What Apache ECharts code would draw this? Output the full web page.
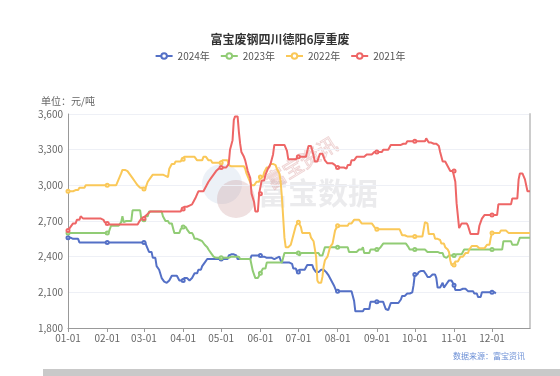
<!DOCTYPE html>
<html lang="zh">
<head>
  <meta charset="UTF-8">
  <title>富宝废钢四川德阳6厚重废</title>
  <script src="https://cdn.jsdelivr.net/npm/echarts@6/dist/echarts.min.js"></script>
  <style>
    html, body { margin: 0; padding: 0; background: #fff; }
  </style>
</head>
<body>
<div id="main" style="width:560px;height:376px;"></div>
<script>
  // 月份天数（按闰年，01-01 ~ 12-31 共366天）
  var monthDays = [31, 29, 31, 30, 31, 30, 31, 31, 30, 31, 30, 31];
  var yTicks = [1800, 2100, 2400, 2700, 3000, 3300, 3600];
  var legendNames = ['2024年', '2023年', '2022年', '2021年'];

  // 价格变动点：[第几天, 价格]，之后保持该价格直到下一个变动点
  var p2024 = [[0,2560],[4,2550],[9,2520],[62,2490],[64,2440],[67,2390],[70,2320],[72,2290],[74,2220],[76,2190],[78,2180],[80,2200],[82,2240],[88,2200],[92,2220],[96,2200],[98,2220],[100,2260],[103,2290],[106,2320],[108,2350],[110,2380],[127,2410],[129,2420],[133,2410],[134,2380],[145,2410],[153,2400],[156,2390],[163,2380],[165,2390],[167,2400],[168,2370],[169,2350],[176,2340],[178,2300],[181,2270],[183,2290],[189,2330],[194,2300],[196,2270],[200,2290],[204,2270],[206,2240],[208,2200],[210,2160],[212,2110],[226,2030],[227,1940],[234,1960],[239,2020],[251,1960],[252,1950],[254,1980],[255,2010],[263,2040],[264,2070],[268,2090],[271,2100],[273,2160],[274,2250],[277,2270],[279,2280],[283,2250],[284,2230],[288,2250],[291,2220],[292,2140],[296,2180],[297,2140],[299,2170],[301,2200],[305,2160],[306,2120],[312,2130],[316,2110],[321,2090],[324,2060],[327,2100],[338,2090]];
  var last2024 = 338;

  var p2023 = [[0,2600],[34,2660],[42,2690],[43,2740],[44,2690],[46,2700],[51,2790],[58,2710],[61,2740],[64,2780],[75,2740],[77,2700],[80,2680],[84,2600],[89,2630],[91,2650],[94,2630],[96,2600],[99,2580],[100,2550],[103,2540],[105,2530],[108,2500],[110,2480],[111,2460],[113,2430],[115,2400],[116,2390],[128,2400],[136,2380],[145,2330],[146,2280],[148,2220],[152,2260],[154,2300],[157,2350],[171,2430],[183,2410],[184,2430],[199,2410],[203,2480],[221,2480],[222,2440],[230,2460],[233,2480],[234,2430],[239,2460],[247,2480],[249,2510],[269,2480],[270,2460],[284,2440],[293,2430],[297,2400],[298,2390],[301,2410],[306,2420],[313,2460],[344,2530],[351,2500],[357,2560]];

  var p2022 = [[0,2950],[5,2960],[9,2980],[14,3000],[40,3050],[42,3100],[43,3130],[47,3120],[49,3090],[51,3060],[53,3030],[55,3000],[57,2980],[60,2970],[63,3030],[65,3060],[67,3090],[76,3080],[78,3070],[80,3140],[82,3180],[85,3200],[90,3220],[92,3240],[102,3210],[107,3240],[111,3210],[114,3190],[122,3210],[127,3170],[128,3160],[140,3140],[141,3100],[143,3050],[145,3000],[149,3030],[152,3070],[155,3110],[157,3150],[160,3180],[164,3170],[165,3140],[167,3100],[168,3030],[169,2900],[171,2560],[172,2480],[176,2500],[178,2580],[180,2660],[182,2690],[184,2650],[185,2600],[192,2560],[194,2530],[196,2400],[197,2200],[198,2180],[201,2230],[202,2320],[203,2370],[205,2400],[207,2480],[209,2510],[211,2620],[213,2660],[222,2680],[226,2710],[232,2680],[242,2650],[244,2630],[264,2580],[267,2570],[282,2690],[284,2680],[285,2590],[290,2550],[293,2540],[295,2510],[298,2480],[300,2460],[301,2440],[302,2370],[303,2330],[306,2360],[310,2400],[314,2430],[317,2460],[319,2490],[325,2470],[331,2500],[334,2560],[335,2600],[342,2620],[348,2600]];

  var p2021 = [[0,2620],[2,2650],[4,2680],[7,2710],[10,2740],[12,2720],[27,2710],[29,2690],[31,2680],[33,2670],[56,2690],[58,2720],[61,2740],[63,2760],[65,2780],[90,2800],[92,2820],[95,2830],[97,2840],[99,2860],[101,2900],[103,2950],[109,2990],[111,3030],[113,3060],[115,3090],[117,3120],[119,3140],[121,3150],[127,3180],[128,3300],[130,3380],[131,3550],[132,3580],[135,3450],[136,3350],[137,3280],[139,3240],[140,3210],[142,3120],[144,3060],[145,2930],[147,2860],[148,2780],[151,2930],[153,3040],[156,3090],[158,3140],[160,3180],[162,3260],[163,3340],[173,3290],[174,3220],[182,3240],[189,3255],[190,3330],[194,3250],[195,3200],[199,3265],[203,3210],[205,3185],[211,3170],[212,3150],[219,3140],[221,3170],[224,3210],[228,3240],[236,3260],[242,3280],[249,3300],[255,3340],[265,3350],[268,3370],[283,3395],[285,3360],[288,3350],[293,3330],[294,3280],[296,3200],[300,3160],[302,3120],[306,3030],[307,2850],[309,2640],[311,2680],[316,2660],[318,2590],[325,2660],[327,2720],[329,2750],[340,2840],[351,2890],[356,3050],[357,3100],[361,3050],[363,2950]];

  // 日期类目 MM-DD
  var dates = [];
  for (var m = 0; m < 12; m++) {
    for (var d = 1; d <= monthDays[m]; d++) {
      dates.push((m < 9 ? '0' : '') + (m + 1) + '-' + (d < 10 ? '0' : '') + d);
    }
  }

  // 变动点展开成每天的价格
  function daily(pts, lastDay) {
    var out = [];
    var k = 0;
    for (var i = 0; i < dates.length; i++) {
      if (i > lastDay) { out.push(null); continue; }
      while (k + 1 < pts.length && pts[k + 1][0] <= i) k++;
      out.push(pts[k][1]);
    }
    return out;
  }

  var isMonthStart = function (idx, val) { return dates[idx].slice(3) === '01'; };

  function lineSeries(name, pts, lastDay) {
    return {
      name: name,
      type: 'line',
      data: daily(pts, lastDay),
      symbol: 'emptyCircle',
      symbolSize: 3,
      itemStyle: { borderWidth: 1 },
      lineStyle: { width: 2 }
    };
  }

  var myChart = echarts.init(document.getElementById('main'));

  var option = {
    animation: false,
    textStyle: { fontFamily: 'Noto Sans CJK SC, sans-serif' },
    color: ['#5470c6', '#91cc75', '#fac858', '#ee6666'],
    title: {
      text: '富宝废钢四川德阳6厚重废',
      left: 'center',
      top: 28,
      textStyle: { fontSize: 12, fontWeight: 'bold', color: '#333' }
    },
    legend: {
      data: legendNames,
      top: 46,
      itemWidth: 17,
      itemHeight: 7,
      itemGap: 10,
      textStyle: { fontSize: 10, color: '#555' }
    },
    grid: { left: 68, right: 30, top: 114, bottom: 48 },
    xAxis: {
      type: 'category',
      data: dates,
      boundaryGap: false,
      axisLine: { lineStyle: { color: '#999' } },
      axisTick: { interval: isMonthStart, length: 4, lineStyle: { color: '#999' } },
      axisLabel: { interval: isMonthStart, fontSize: 10, margin: 5, color: '#666' }
    },
    yAxis: [
      {
        type: 'value',
        min: yTicks[0],
        max: yTicks[yTicks.length - 1],
        interval: 300,
        name: '单位：元/吨',
        nameGap: 8,
        nameTextStyle: { fontSize: 10, color: '#666' },
        axisLine: { show: true, lineStyle: { color: '#999' } },
        axisTick: { show: false },
        axisLabel: { fontSize: 10, margin: 5, color: '#666' },
        splitLine: { lineStyle: { color: '#eef0f6' } }
      },
      {
        type: 'value',
        position: 'right',
        min: yTicks[0],
        max: yTicks[yTicks.length - 1],
        interval: 300,
        axisLine: { show: true, lineStyle: { color: '#ccc', width: 2 } },
        axisTick: { show: false },
        axisLabel: { show: false },
        splitLine: { show: false }
      }
    ],
    graphic: [
      { type: 'circle', shape: { cx: 222, cy: 184, r: 20 }, style: { fill: 'rgba(200,215,232,0.35)' }, z: 0 },
      { type: 'circle', shape: { cx: 236, cy: 199, r: 19 }, style: { fill: 'rgba(190,130,130,0.25)' }, z: 0 },
      { type: 'text', x: 258, y: 178, z: 0,
        style: { text: '富宝数据', font: 'bold 30px "Noto Sans CJK SC"', fill: 'rgba(190,190,195,0.3)' } },
      { type: 'text', x: 262, y: 175, rotation: 0.55, z: 0,
        style: { text: '富宝资讯', font: '20px "Noto Sans CJK SC"', fill: 'rgba(255,255,255,0)', stroke: 'rgba(215,150,150,0.4)', lineWidth: 1 } },
      { type: 'text', right: 35, top: 352, z: 1,
        style: { text: '数据来源：富宝资讯', font: '8px "Noto Sans CJK SC"', fill: '#6b8fd6' } },
      { type: 'rect', shape: { x: 43, y: 369, width: 517, height: 7 }, style: { fill: '#c9c9c9' }, z: 1 }
    ],
    series: [
      lineSeries(legendNames[0], p2024, last2024),
      lineSeries(legendNames[1], p2023, 365),
      lineSeries(legendNames[2], p2022, 365),
      lineSeries(legendNames[3], p2021, 365)
    ]
  };

  myChart.setOption(option);
</script>
</body>
</html>
